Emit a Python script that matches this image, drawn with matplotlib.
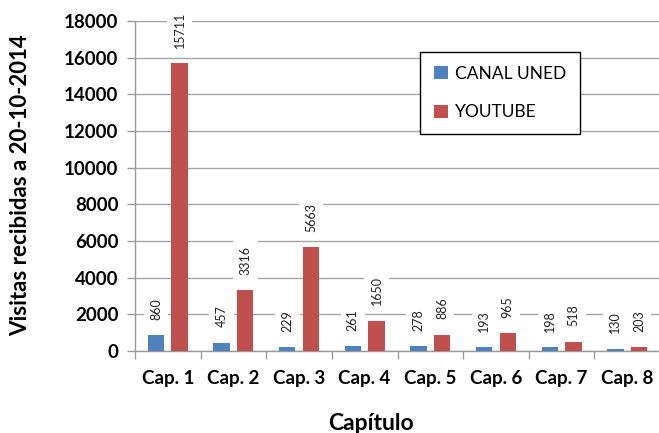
import matplotlib.pyplot as plt
import numpy as np

# data
capitulos = ['Cap. 1', 'Cap. 2', 'Cap. 3', 'Cap. 4', 'Cap. 5', 'Cap. 6', 'Cap. 7', 'Cap. 8']
canal_uned = [860, 457, 229, 261, 278, 193, 198, 130]
youtube = [15711, 3316, 5663, 1650, 886, 965, 518, 203]
y_ticks = [0, 2000, 4000, 6000, 8000, 10000, 12000, 14000, 16000, 18000]

plt.rcParams['font.family'] = ['Lato', 'DejaVu Sans']

fig = plt.figure(figsize=(6.59, 4.33), dpi=100)
ax = fig.add_axes([135 / 659, 1 - 351 / 433, 525 / 659, 330 / 433])

x = np.arange(len(capitulos))
w = 0.25
off = 0.18
b1 = ax.bar(x - off, canal_uned, w, color='#4F81BD', label='CANAL UNED', zorder=3)
b2 = ax.bar(x + off, youtube, w, color='#C0504D', label='YOUTUBE', zorder=3)

# value labels above bars, rotated, with white box that cuts the gridlines
for bars, vals in [(b1, canal_uned), (b2, youtube)]:
    for rect, v in zip(bars, vals):
        ax.annotate(str(v), (rect.get_x() + rect.get_width() / 2, v),
                    xytext=(0, 11), textcoords='offset points',
                    rotation=90, ha='center', va='bottom', fontsize=9,
                    color='#222222', zorder=4,
                    bbox=dict(boxstyle='square,pad=0.5', fc='white', ec='none'))

ax.set_xlim(-0.5, len(capitulos) - 0.5)
ax.set_ylim(0, 18000)
ax.set_yticks(y_ticks)
ax.set_yticklabels([str(t) for t in y_ticks], fontsize=13.5, fontweight='bold')
ax.set_xticks(x)
ax.set_xticklabels(capitulos, fontsize=13.5, fontweight='bold')
ax.set_xticks(np.arange(len(capitulos) + 1) - 0.5, minor=True)

ax.tick_params(axis='x', which='major', length=0, pad=14)
ax.tick_params(axis='x', which='minor', length=6, color='#999999', width=1)
ax.tick_params(axis='y', length=6, color='#999999', width=1, pad=6)

ax.grid(axis='y', color='#A6A6A6', linewidth=1, zorder=0)
for s in ['top', 'right']:
    ax.spines[s].set_visible(False)
for s in ['left', 'bottom']:
    ax.spines[s].set_color('#999999')
    ax.spines[s].set_linewidth(1)

fig.text(21 / 659, 1 - 185 / 433, 'Visitas recibidas a 20-10-2014', rotation=90,
         ha='center', va='center', fontsize=16, fontweight='bold')
fig.text(371 / 659, 1 - 423 / 433, 'Capítulo', ha='center', va='center',
         fontsize=16.5, fontweight='bold')

leg = ax.legend(loc='upper left', bbox_to_anchor=(420 / 659, 1 - 52 / 433),
                bbox_transform=fig.transFigure, borderaxespad=0, fontsize=12.5,
                fancybox=False, edgecolor='black', framealpha=1,
                handlelength=0.8, handleheight=0.8, handletextpad=0.4,
                labelspacing=1.3, borderpad=0.8)
leg.get_frame().set_linewidth(1)

fig.savefig('out.png', dpi=100)
